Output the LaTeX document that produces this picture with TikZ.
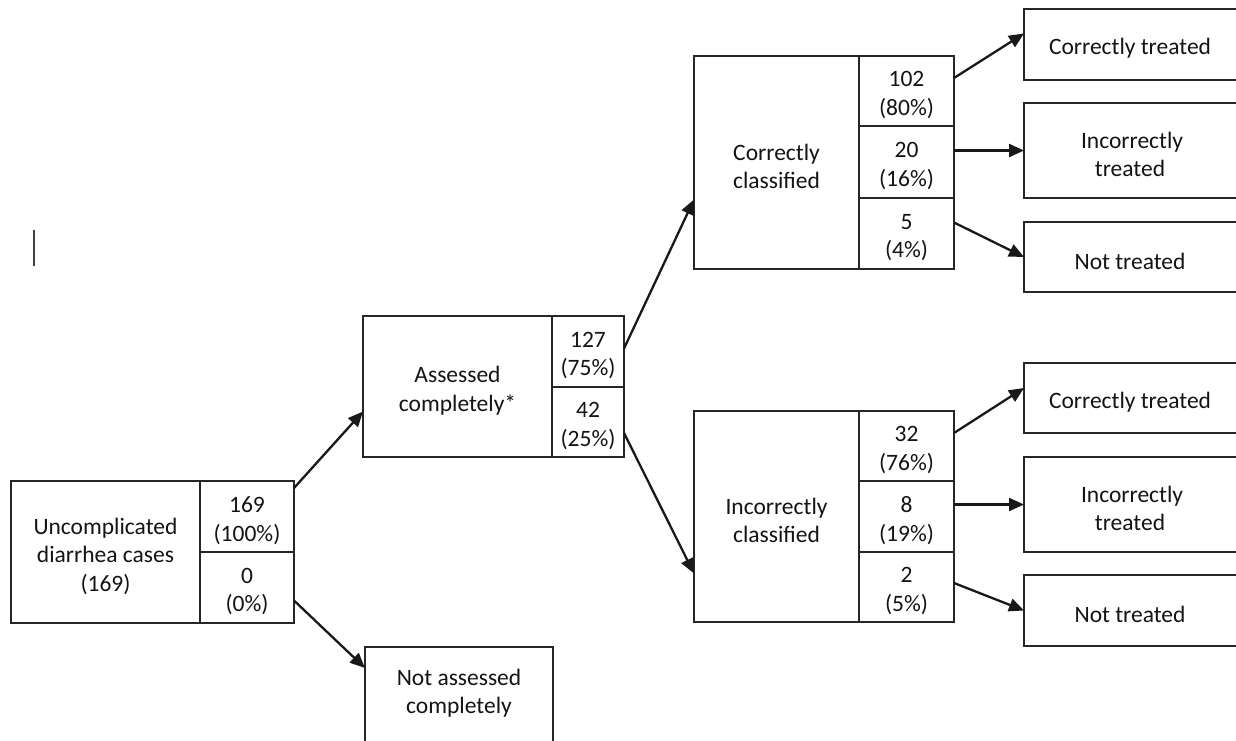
\documentclass[tikz,border=0pt]{standalone}
\usepackage{fontspec}
\setmainfont{Carlito}
\usetikzlibrary{arrows.meta,calc}
\newcommand\bx[6]{\node[boxsty, minimum width={#4-#2}, minimum height={#5-#3}] (#1) at ({(#2+#4)/2},{(#3+#5)/2}) {};
\node[txtsty] at ($(#1.center)+(0,4)$) {#6};}
\tikzset{
  boxsty/.style={draw=black!85, line width=2.4pt, inner sep=0pt, outer sep=0pt},
  txtsty/.style={inner sep=0pt, align=center, font=\fontsize{23.5}{28.5}\selectfont, text=black!92},
  arr/.style={draw=black!90, line width=2.3pt, -{Triangle[length=15pt,width=13pt]}}
}
\begin{document}
\begin{tikzpicture}[x=1pt,y=-1pt]
\clip (0,0) rectangle (1236,740);
\fill[white] (0,0) rectangle (1236,740);
% stray mark
\draw[black!75, line width=1.8pt] (34,230) -- (34,266);
% level 1
\bx{m1}{11}{481}{200}{623}{Uncomplicated\\diarrhea cases\\(169)}
\bx{c1a}{200}{481}{294}{552}{169\\(100\%)}
\bx{c1b}{200}{552}{294}{623}{0\\(0\%)}
% level 2
\bx{m2}{363}{316}{552}{457}{Assessed\\completely*}
\bx{c2a}{552}{316}{624}{387}{127\\(75\%)}
\bx{c2b}{552}{387}{624}{457}{42\\(25\%)}
\node[boxsty, minimum width=188, minimum height=100] (na) at (459,697) {};
\node[txtsty] at ($(na.north)+(0,46)$) {Not assessed\\completely};
% level 3
\bx{m3}{694}{56}{859}{269}{Correctly\\classified}
\bx{c3a}{859}{56}{954}{126}{102\\(80\%)}
\bx{c3b}{859}{126}{954}{198}{20\\(16\%)}
\bx{c3c}{859}{198}{954}{269}{5\\(4\%)}
\bx{m4}{694}{411}{859}{622}{Incorrectly\\classified}
\bx{c4a}{859}{411}{954}{481}{32\\(76\%)}
\bx{c4b}{859}{481}{954}{552}{8\\(19\%)}
\bx{c4c}{859}{552}{954}{622}{2\\(5\%)}
% level 4
\bx{t1}{1024}{9}{1240}{80}{Correctly treated\hspace*{4pt}}
\bx{t2}{1024}{103}{1240}{198}{Incorrectly\\treated\hspace*{4pt}}
\bx{t3}{1024}{222}{1240}{292}{Not treated\hspace*{4pt}}
\bx{b1}{1024}{363}{1240}{433}{Correctly treated\hspace*{4pt}}
\bx{b2}{1024}{457}{1240}{552}{Incorrectly\\treated\hspace*{4pt}}
\bx{b3}{1024}{575}{1240}{646}{Not treated\hspace*{4pt}}
% connectors
\draw[arr] ($(c1a.north east)+(0,7)$) -- ($(m2.west)+(0,25)$);
\draw[arr] ($(c1b.east)+(0,13)$) -- ($(na.north west)+(0,21)$);
\draw[arr] ($(c2a.east)+(0,-3)$) -- ($(m3.west)+(0,37)$);
\draw[arr] ($(c2b.east)+(0,11)$) -- ($(m4.west)+(0,57)$);
\draw[arr] ($(c3a.east)+(0,-13)$) -- ($(t1.west)+(0,-11)$);
\draw[arr] (c3b.east |- t2.west) -- (t2.west);
\draw[arr] ($(c3c.east)+(0,-11)$) -- (t3.west);
\draw[arr] ($(c4a.east)+(0,-13)$) -- ($(b1.west)+(0,-10)$);
\draw[arr] (c4b.east |- b2.west) -- (b2.west);
\draw[arr] ($(c4c.east)+(0,-4)$) -- (b3.west);
\end{tikzpicture}
\end{document}
